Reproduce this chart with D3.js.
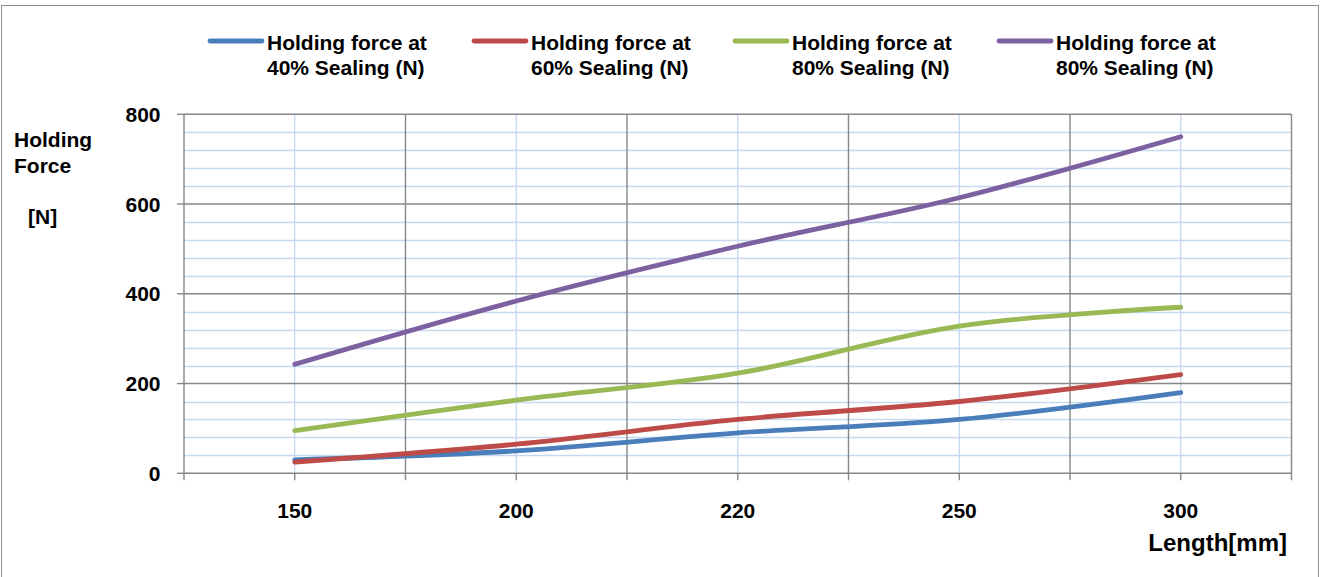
<!DOCTYPE html>
<html>
<head>
<meta charset="utf-8">
<script src="https://cdn.jsdelivr.net/npm/d3@7"></script>
<style>
  html, body { margin: 0; padding: 0; background: #ffffff; }
  svg { display: block; font-family: "Liberation Sans", Arial, sans-serif; font-weight: bold; }
</style>
</head>
<body>
<svg id="chart" width="1329" height="577"></svg>
<script>
// ---- data ----
const categories = ["150", "200", "220", "250", "300"];
const force40 = [30, 50, 90, 120, 180];
const force60 = [25, 65, 120, 160, 220];
const force80a = [95, 163, 223, 328, 370];
const force80b = [243, 384, 506, 614, 750];
const seriesNames = [
  ["Holding force at", "40% Sealing (N)"],
  ["Holding force at", "60% Sealing (N)"],
  ["Holding force at", "80% Sealing (N)"],
  ["Holding force at", "80% Sealing (N)"]
];
const yTicks = [0, 200, 400, 600, 800];
const yMinorStep = 40;

// ---- styles / layout ----
const colors = ["#4a7ebb", "#be4b48", "#98b954", "#7d60a0"];
const legendX = [208, 472, 733, 997];
const gridDark = "#878787";
const gridLight = "#c6d9f0";

const svg = d3.select("#chart");

// outer frame
svg.append("rect").attr("x", 1.5).attr("y", 5.5).attr("width", 1317).attr("height", 600)
  .attr("fill", "none").attr("stroke", "#8c8c8c").attr("stroke-width", 1);

const x = d3.scaleBand().domain(categories).range([184, 1291.5]).paddingInner(0).paddingOuter(0);
const bw = x.bandwidth();
const cx = c => x(c) + bw / 2;
const y = d3.scaleLinear().domain([0, 800]).range([473.3, 114.3]);

const g = svg.append("g");

// minor horizontal gridlines
const minor = d3.range(0, 800 + 1, yMinorStep).filter(v => !yTicks.includes(v));
g.selectAll(".hminor").data(minor).join("line")
  .attr("x1", 184).attr("x2", 1291.5)
  .attr("y1", d => Math.round(y(d)) + 0.5).attr("y2", d => Math.round(y(d)) + 0.5)
  .attr("stroke", gridLight).attr("stroke-width", 1.3);

// minor vertical gridlines at category centres
g.selectAll(".vminor").data(categories).join("line")
  .attr("x1", d => cx(d)).attr("x2", d => cx(d))
  .attr("y1", y(800)).attr("y2", y(0))
  .attr("stroke", gridLight).attr("stroke-width", 1.3);

// major horizontal gridlines
g.selectAll(".hmajor").data(yTicks).join("line")
  .attr("x1", 184).attr("x2", 1291.5)
  .attr("y1", d => y(d)).attr("y2", d => y(d))
  .attr("stroke", gridDark).attr("stroke-width", 1.4);

// major vertical gridlines at band edges
const edges = categories.map(c => x(c)).concat([x.range()[1]]);
g.selectAll(".vmajor").data(edges).join("line")
  .attr("x1", d => d).attr("x2", d => d)
  .attr("y1", y(800)).attr("y2", y(0))
  .attr("stroke", gridDark).attr("stroke-width", 1.4);

// y axis ticks
g.selectAll(".ytick").data(yTicks).join("line")
  .attr("x1", 177).attr("x2", 184)
  .attr("y1", d => y(d)).attr("y2", d => y(d))
  .attr("stroke", gridDark).attr("stroke-width", 1.4);

// x axis ticks (edges + centres)
const xTickPos = edges.concat(categories.map(cx));
g.selectAll(".xtick").data(xTickPos).join("line")
  .attr("x1", d => d).attr("x2", d => d)
  .attr("y1", y(0)).attr("y2", y(0) + 7)
  .attr("stroke", gridDark).attr("stroke-width", 1.4);

// y tick labels
g.selectAll(".ylab").data(yTicks).join("text")
  .attr("x", 160.5).attr("y", d => y(d) + 7.6)
  .attr("text-anchor", "end").attr("font-size", 21).attr("fill", "#000")
  .text(d => d);

// x tick labels
g.selectAll(".xlab").data(categories).join("text")
  .attr("x", d => cx(d)).attr("y", 517.5)
  .attr("text-anchor", "middle").attr("font-size", 21).attr("fill", "#000")
  .text(d => d);

// axis titles
const yt = svg.append("text").attr("font-size", 21).attr("fill", "#000");
yt.append("tspan").attr("x", 14).attr("y", 147).text("Holding");
yt.append("tspan").attr("x", 14).attr("y", 172.5).text("Force");
yt.append("tspan").attr("x", 28).attr("y", 224).text("[N]");

svg.append("text").attr("x", 1287).attr("y", 550.5).attr("text-anchor", "end")
  .attr("font-size", 24).attr("fill", "#000").text("Length[mm]");

// series lines
const allSeries = [force40, force60, force80a, force80b];
const line = d3.line()
  .x((d, i) => cx(categories[i]))
  .y(d => y(d))
  .curve(d3.curveCardinal.tension(0));

svg.append("g").selectAll("path").data(allSeries).join("path")
  .attr("d", d => line(d))
  .attr("fill", "none")
  .attr("stroke", (d, i) => colors[i])
  .attr("stroke-width", 4.8)
  .attr("stroke-linecap", "round")
  .attr("stroke-linejoin", "round");

// legend
const lg = svg.append("g").selectAll("g").data(seriesNames).join("g");
lg.append("line")
  .attr("x1", (d, i) => legendX[i] + 2).attr("x2", (d, i) => legendX[i] + 54)
  .attr("y1", 41).attr("y2", 41)
  .attr("stroke", (d, i) => colors[i]).attr("stroke-width", 4.8)
  .attr("stroke-linecap", "round");
lg.each(function(d, i) {
  const t = d3.select(this).append("text").attr("font-size", 21).attr("fill", "#000");
  t.append("tspan").attr("x", legendX[i] + 59).attr("y", 49.5).text(d[0]);
  t.append("tspan").attr("x", legendX[i] + 59).attr("y", 74.5).text(d[1]);
});
</script>
</body>
</html>
